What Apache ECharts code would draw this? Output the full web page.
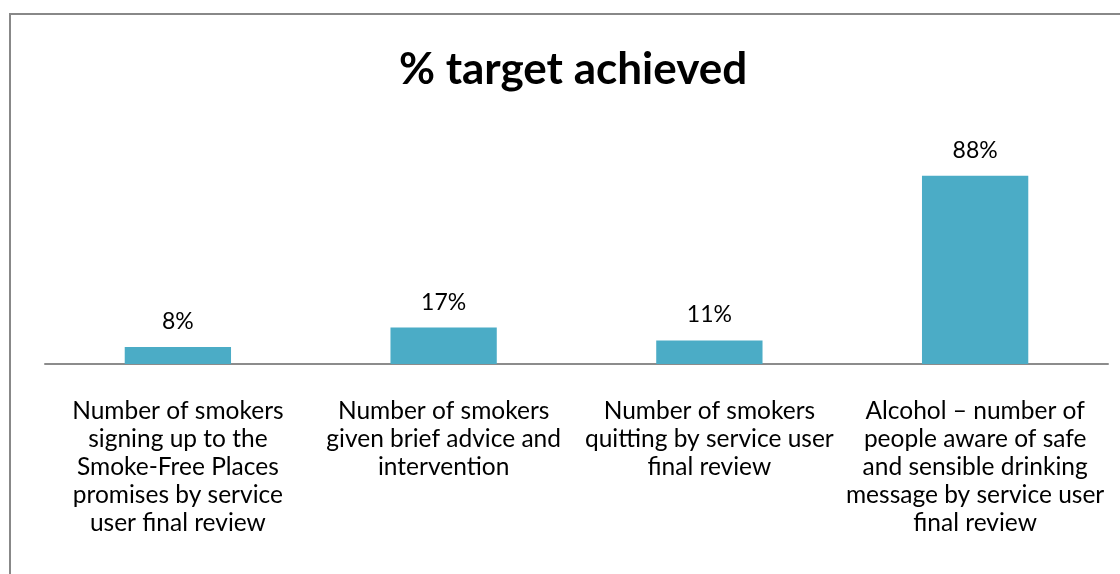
<!DOCTYPE html>
<html>
<head>
<meta charset="utf-8">
<script src="https://cdn.jsdelivr.net/npm/echarts@6/dist/echarts.min.js"></script>
<style>
html,body{margin:0;padding:0;background:#fff;}
#chart{width:1120px;height:574px;}
</style>
</head>
<body>
<div id="chart"></div>
<script>
var categories = [
  "Number of smokers\nsigning up to the\nSmoke-Free Places\npromises by service\nuser final review",
  "Number of smokers\ngiven brief advice and\nintervention",
  "Number of smokers\nquitting by service user\nfinal review",
  "Alcohol \u2013 number of\npeople aware of safe\nand sensible drinking\nmessage by service user\nfinal review"
];
var values = [8, 17, 11, 88];
var titleText = "% target achieved";

var chart = echarts.init(document.getElementById('chart'), null, {renderer: 'canvas'});
chart.setOption({
  backgroundColor: '#ffffff',
  animation: false,
  title: {
    text: titleText,
    left: 568,
    textAlign: 'center',
    top: 43,
    textStyle: {fontFamily: 'Lato', fontWeight: 'bold', fontSize: 44, color: '#000'}
  },
  graphic: [{
    type: 'polyline',
    shape: {points: [[10, 580], [10, 14], [1125, 14]]},
    style: {stroke: '#888888', lineWidth: 2, fill: null},
    silent: true
  }],
  grid: {left: 45, right: 12, top: 150, bottom: 210, containLabel: false},
  xAxis: {
    type: 'category',
    data: categories,
    axisLine: {show: true, lineStyle: {color: '#8c8c8c', width: 2}},
    axisTick: {show: false},
    axisLabel: {
      interval: 0,
      margin: 33,
      fontFamily: 'Lato',
      fontSize: 24.5,
      lineHeight: 28,
      color: '#000',
      align: 'center'
    }
  },
  yAxis: {
    type: 'value',
    min: 0,
    max: 100,
    show: false,
    splitLine: {show: false}
  },
  series: [{
    type: 'bar',
    data: values,
    barWidth: '40%',
    itemStyle: {color: '#4bacc6'},
    label: {
      show: true,
      position: 'top',
      distance: 14,
      formatter: '{c}%',
      fontFamily: 'Lato',
      fontSize: 23,
      color: '#000'
    }
  }]
});
</script>
</body>
</html>
